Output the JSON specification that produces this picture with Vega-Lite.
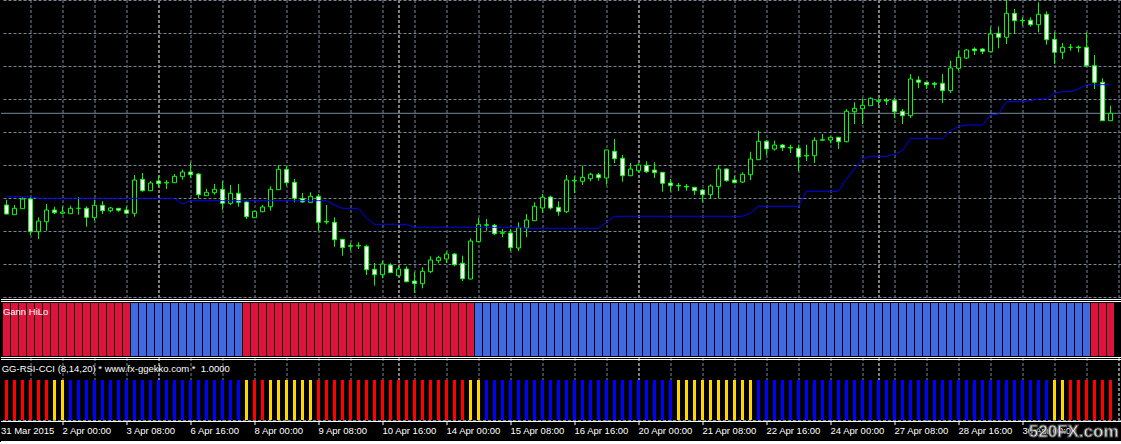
{
  "$schema": "https://vega.github.io/schema/vega-lite/v6.json",
  "background": "#000000",
  "padding": 0,
  "spacing": 0,
  "bounds": "flush",
  "resolve": {"scale": {"color": "independent"}},
  "config": {"view": {"stroke": null}, "concat": {"spacing": 0}, "scale": {"continuousPadding": 0}},
  "datasets": {
    "bars": [
      {"i":0,"o":1.0785,"h":1.079825,"l":1.076075,"c":1.07625,"hilo":1.080575,"gann":"down","rc":"down"},
      {"i":1,"o":1.076075,"h":1.0785,"l":1.076075,"c":1.077675,"hilo":1.080575,"gann":"down","rc":"down"},
      {"i":2,"o":1.077575,"h":1.080425,"l":1.077575,"c":1.08,"hilo":1.080575,"gann":"down","rc":"down"},
      {"i":3,"o":1.08,"h":1.080425,"l":1.071,"c":1.071825,"hilo":1.080575,"gann":"down","rc":"down"},
      {"i":4,"o":1.071825,"h":1.075425,"l":1.07,"c":1.0745,"hilo":1.080175,"gann":"down","rc":"down"},
      {"i":5,"o":1.074325,"h":1.07875,"l":1.072075,"c":1.07725,"hilo":1.080175,"gann":"down","rc":"down"},
      {"i":6,"o":1.07725,"h":1.078075,"l":1.07625,"c":1.076575,"hilo":1.080175,"gann":"down","rc":"flat"},
      {"i":7,"o":1.076425,"h":1.078175,"l":1.076175,"c":1.07675,"hilo":1.080175,"gann":"down","rc":"flat"},
      {"i":8,"o":1.076325,"h":1.078325,"l":1.07625,"c":1.077675,"hilo":1.080175,"gann":"down","rc":"up"},
      {"i":9,"o":1.077675,"h":1.080425,"l":1.076075,"c":1.077675,"hilo":1.080175,"gann":"down","rc":"up"},
      {"i":10,"o":1.077675,"h":1.078175,"l":1.073075,"c":1.075425,"hilo":1.080175,"gann":"down","rc":"up"},
      {"i":11,"o":1.075325,"h":1.079825,"l":1.074575,"c":1.078425,"hilo":1.080175,"gann":"down","rc":"up"},
      {"i":12,"o":1.078425,"h":1.079425,"l":1.07625,"c":1.077075,"hilo":1.080175,"gann":"down","rc":"up"},
      {"i":13,"o":1.077075,"h":1.078,"l":1.076675,"c":1.07775,"hilo":1.080175,"gann":"down","rc":"up"},
      {"i":14,"o":1.077675,"h":1.07775,"l":1.076825,"c":1.077175,"hilo":1.080175,"gann":"down","rc":"up"},
      {"i":15,"o":1.07725,"h":1.078175,"l":1.076175,"c":1.076425,"hilo":1.080175,"gann":"down","rc":"up"},
      {"i":16,"o":1.076425,"h":1.086,"l":1.075575,"c":1.08475,"hilo":1.080175,"gann":"up","rc":"up"},
      {"i":17,"o":1.084925,"h":1.0865,"l":1.081825,"c":1.082075,"hilo":1.080175,"gann":"up","rc":"up"},
      {"i":18,"o":1.082075,"h":1.0845,"l":1.082,"c":1.084,"hilo":1.080175,"gann":"up","rc":"up"},
      {"i":19,"o":1.0845,"h":1.085825,"l":1.082925,"c":1.083825,"hilo":1.080175,"gann":"up","rc":"up"},
      {"i":20,"o":1.084,"h":1.08475,"l":1.0825,"c":1.084175,"hilo":1.080175,"gann":"up","rc":"up"},
      {"i":21,"o":1.084075,"h":1.08625,"l":1.084,"c":1.085675,"hilo":1.080175,"gann":"up","rc":"up"},
      {"i":22,"o":1.085575,"h":1.087325,"l":1.084825,"c":1.08675,"hilo":1.07875,"gann":"up","rc":"up"},
      {"i":23,"o":1.08675,"h":1.089175,"l":1.085175,"c":1.086075,"hilo":1.079575,"gann":"up","rc":"up"},
      {"i":24,"o":1.08625,"h":1.0865,"l":1.08025,"c":1.081075,"hilo":1.079575,"gann":"up","rc":"up"},
      {"i":25,"o":1.080825,"h":1.0825,"l":1.08075,"c":1.081675,"hilo":1.079575,"gann":"up","rc":"up"},
      {"i":26,"o":1.081575,"h":1.08375,"l":1.081075,"c":1.082425,"hilo":1.079575,"gann":"up","rc":"up"},
      {"i":27,"o":1.082425,"h":1.0845,"l":1.077325,"c":1.078925,"hilo":1.079575,"gann":"up","rc":"up"},
      {"i":28,"o":1.078925,"h":1.0835,"l":1.0785,"c":1.081425,"hilo":1.079575,"gann":"up","rc":"up"},
      {"i":29,"o":1.081425,"h":1.08375,"l":1.078075,"c":1.079175,"hilo":1.079575,"gann":"up","rc":"up"},
      {"i":30,"o":1.07925,"h":1.079425,"l":1.075,"c":1.075575,"hilo":1.079575,"gann":"down","rc":"flat"},
      {"i":31,"o":1.075325,"h":1.077075,"l":1.07525,"c":1.076925,"hilo":1.079575,"gann":"down","rc":"down"},
      {"i":32,"o":1.076825,"h":1.0785,"l":1.076675,"c":1.078,"hilo":1.079575,"gann":"down","rc":"down"},
      {"i":33,"o":1.078075,"h":1.083175,"l":1.077075,"c":1.082425,"hilo":1.079575,"gann":"down","rc":"flat"},
      {"i":34,"o":1.082325,"h":1.0885,"l":1.08225,"c":1.087425,"hilo":1.079575,"gann":"down","rc":"flat"},
      {"i":35,"o":1.087425,"h":1.088175,"l":1.083325,"c":1.084075,"hilo":1.079575,"gann":"down","rc":"flat"},
      {"i":36,"o":1.084175,"h":1.085,"l":1.079175,"c":1.080175,"hilo":1.079575,"gann":"down","rc":"flat"},
      {"i":37,"o":1.080075,"h":1.0815,"l":1.079075,"c":1.07925,"hilo":1.079575,"gann":"down","rc":"flat"},
      {"i":38,"o":1.079175,"h":1.081675,"l":1.079075,"c":1.080675,"hilo":1.079575,"gann":"down","rc":"flat"},
      {"i":39,"o":1.080675,"h":1.08125,"l":1.072075,"c":1.074175,"hilo":1.079575,"gann":"down","rc":"down"},
      {"i":40,"o":1.074425,"h":1.0785,"l":1.073675,"c":1.07425,"hilo":1.079575,"gann":"down","rc":"down"},
      {"i":41,"o":1.074175,"h":1.075425,"l":1.068075,"c":1.069825,"hilo":1.0785,"gann":"down","rc":"down"},
      {"i":42,"o":1.069925,"h":1.07,"l":1.065825,"c":1.067825,"hilo":1.077675,"gann":"down","rc":"down"},
      {"i":43,"o":1.068325,"h":1.069,"l":1.067075,"c":1.068175,"hilo":1.077675,"gann":"down","rc":"down"},
      {"i":44,"o":1.06825,"h":1.069175,"l":1.0675,"c":1.068425,"hilo":1.077675,"gann":"down","rc":"down"},
      {"i":45,"o":1.068175,"h":1.068575,"l":1.061,"c":1.062325,"hilo":1.07525,"gann":"down","rc":"down"},
      {"i":46,"o":1.062425,"h":1.064,"l":1.058325,"c":1.061075,"hilo":1.073675,"gann":"down","rc":"down"},
      {"i":47,"o":1.061075,"h":1.064575,"l":1.060175,"c":1.06375,"hilo":1.073675,"gann":"down","rc":"down"},
      {"i":48,"o":1.0635,"h":1.063925,"l":1.0615,"c":1.061575,"hilo":1.073675,"gann":"down","rc":"down"},
      {"i":49,"o":1.060825,"h":1.063325,"l":1.06075,"c":1.0625,"hilo":1.073675,"gann":"down","rc":"down"},
      {"i":50,"o":1.0625,"h":1.063175,"l":1.059175,"c":1.059325,"hilo":1.073675,"gann":"down","rc":"down"},
      {"i":51,"o":1.0595,"h":1.061675,"l":1.0565,"c":1.058825,"hilo":1.072925,"gann":"down","rc":"down"},
      {"i":52,"o":1.058825,"h":1.062925,"l":1.057675,"c":1.061925,"hilo":1.072925,"gann":"down","rc":"down"},
      {"i":53,"o":1.061825,"h":1.065675,"l":1.0615,"c":1.06475,"hilo":1.072925,"gann":"down","rc":"down"},
      {"i":54,"o":1.064575,"h":1.065825,"l":1.063925,"c":1.065325,"hilo":1.072925,"gann":"down","rc":"down"},
      {"i":55,"o":1.065,"h":1.066825,"l":1.064,"c":1.06625,"hilo":1.072925,"gann":"down","rc":"down"},
      {"i":56,"o":1.06625,"h":1.0665,"l":1.063175,"c":1.063575,"hilo":1.072925,"gann":"down","rc":"down"},
      {"i":57,"o":1.063925,"h":1.065825,"l":1.0595,"c":1.060075,"hilo":1.072925,"gann":"down","rc":"down"},
      {"i":58,"o":1.06,"h":1.070175,"l":1.059925,"c":1.0695,"hilo":1.072925,"gann":"down","rc":"flat"},
      {"i":59,"o":1.069325,"h":1.07525,"l":1.06925,"c":1.073675,"hilo":1.072925,"gann":"up","rc":"flat"},
      {"i":60,"o":1.073425,"h":1.075,"l":1.072075,"c":1.073575,"hilo":1.072925,"gann":"up","rc":"up"},
      {"i":61,"o":1.073425,"h":1.07375,"l":1.071,"c":1.071325,"hilo":1.072925,"gann":"up","rc":"up"},
      {"i":62,"o":1.071425,"h":1.0725,"l":1.070425,"c":1.071575,"hilo":1.072925,"gann":"up","rc":"up"},
      {"i":63,"o":1.0715,"h":1.0725,"l":1.067,"c":1.067825,"hilo":1.072925,"gann":"up","rc":"up"},
      {"i":64,"o":1.06775,"h":1.074175,"l":1.067,"c":1.072825,"hilo":1.072925,"gann":"up","rc":"up"},
      {"i":65,"o":1.07275,"h":1.07625,"l":1.070425,"c":1.07475,"hilo":1.072675,"gann":"up","rc":"up"},
      {"i":66,"o":1.074575,"h":1.079175,"l":1.0745,"c":1.078175,"hilo":1.072675,"gann":"up","rc":"up"},
      {"i":67,"o":1.07775,"h":1.08125,"l":1.0765,"c":1.080425,"hilo":1.072675,"gann":"up","rc":"up"},
      {"i":68,"o":1.0805,"h":1.080825,"l":1.077325,"c":1.07775,"hilo":1.072675,"gann":"up","rc":"up"},
      {"i":69,"o":1.077925,"h":1.079425,"l":1.075825,"c":1.076825,"hilo":1.072675,"gann":"up","rc":"up"},
      {"i":70,"o":1.076825,"h":1.086,"l":1.0765,"c":1.08475,"hilo":1.072675,"gann":"up","rc":"up"},
      {"i":71,"o":1.0845,"h":1.085675,"l":1.0815,"c":1.084675,"hilo":1.072675,"gann":"up","rc":"up"},
      {"i":72,"o":1.084425,"h":1.088325,"l":1.0835,"c":1.085425,"hilo":1.072675,"gann":"up","rc":"up"},
      {"i":73,"o":1.085075,"h":1.086575,"l":1.084425,"c":1.086175,"hilo":1.072675,"gann":"up","rc":"up"},
      {"i":74,"o":1.086075,"h":1.0865,"l":1.084575,"c":1.085325,"hilo":1.072675,"gann":"up","rc":"up"},
      {"i":75,"o":1.08525,"h":1.092325,"l":1.083575,"c":1.09225,"hilo":1.074175,"gann":"up","rc":"up"},
      {"i":76,"o":1.091925,"h":1.095,"l":1.089,"c":1.090075,"hilo":1.075675,"gann":"up","rc":"up"},
      {"i":77,"o":1.090175,"h":1.091,"l":1.084325,"c":1.085825,"hilo":1.075675,"gann":"up","rc":"up"},
      {"i":78,"o":1.085825,"h":1.089,"l":1.085675,"c":1.0875,"hilo":1.075675,"gann":"up","rc":"up"},
      {"i":79,"o":1.087075,"h":1.088925,"l":1.086675,"c":1.0885,"hilo":1.075675,"gann":"up","rc":"up"},
      {"i":80,"o":1.088425,"h":1.089425,"l":1.0865,"c":1.086825,"hilo":1.075675,"gann":"up","rc":"up"},
      {"i":81,"o":1.08725,"h":1.089175,"l":1.08525,"c":1.086575,"hilo":1.075675,"gann":"up","rc":"up"},
      {"i":82,"o":1.086675,"h":1.08675,"l":1.081825,"c":1.083925,"hilo":1.075675,"gann":"up","rc":"up"},
      {"i":83,"o":1.084,"h":1.085,"l":1.081825,"c":1.083325,"hilo":1.075675,"gann":"up","rc":"up"},
      {"i":84,"o":1.083425,"h":1.084,"l":1.082,"c":1.08325,"hilo":1.075675,"gann":"up","rc":"flat"},
      {"i":85,"o":1.083175,"h":1.08375,"l":1.082075,"c":1.083,"hilo":1.075675,"gann":"up","rc":"flat"},
      {"i":86,"o":1.082925,"h":1.083,"l":1.081,"c":1.082075,"hilo":1.075675,"gann":"up","rc":"flat"},
      {"i":87,"o":1.08225,"h":1.0825,"l":1.079175,"c":1.081075,"hilo":1.075675,"gann":"up","rc":"flat"},
      {"i":88,"o":1.081075,"h":1.083675,"l":1.08,"c":1.08325,"hilo":1.075675,"gann":"up","rc":"flat"},
      {"i":89,"o":1.083075,"h":1.0885,"l":1.080175,"c":1.0875,"hilo":1.075675,"gann":"up","rc":"flat"},
      {"i":90,"o":1.0875,"h":1.087675,"l":1.084325,"c":1.084575,"hilo":1.075675,"gann":"up","rc":"flat"},
      {"i":91,"o":1.08475,"h":1.085825,"l":1.083925,"c":1.084075,"hilo":1.075675,"gann":"up","rc":"flat"},
      {"i":92,"o":1.08425,"h":1.086675,"l":1.084,"c":1.086175,"hilo":1.075675,"gann":"up","rc":"flat"},
      {"i":93,"o":1.086075,"h":1.091825,"l":1.08475,"c":1.09,"hilo":1.0765,"gann":"up","rc":"flat"},
      {"i":94,"o":1.089825,"h":1.097075,"l":1.08975,"c":1.094425,"hilo":1.078175,"gann":"up","rc":"up"},
      {"i":95,"o":1.094425,"h":1.09475,"l":1.091,"c":1.0925,"hilo":1.078175,"gann":"up","rc":"up"},
      {"i":96,"o":1.0925,"h":1.094575,"l":1.092075,"c":1.0935,"hilo":1.078175,"gann":"up","rc":"up"},
      {"i":97,"o":1.0935,"h":1.09375,"l":1.092,"c":1.092825,"hilo":1.078175,"gann":"up","rc":"up"},
      {"i":98,"o":1.092925,"h":1.093575,"l":1.0915,"c":1.09275,"hilo":1.078175,"gann":"up","rc":"up"},
      {"i":99,"o":1.092675,"h":1.093575,"l":1.086925,"c":1.0905,"hilo":1.078175,"gann":"up","rc":"up"},
      {"i":100,"o":1.09075,"h":1.093575,"l":1.0895,"c":1.090925,"hilo":1.081925,"gann":"up","rc":"up"},
      {"i":101,"o":1.090825,"h":1.095425,"l":1.089,"c":1.094675,"hilo":1.081925,"gann":"up","rc":"up"},
      {"i":102,"o":1.094675,"h":1.09625,"l":1.0945,"c":1.094825,"hilo":1.081925,"gann":"up","rc":"up"},
      {"i":103,"o":1.09475,"h":1.095675,"l":1.093925,"c":1.095425,"hilo":1.081925,"gann":"up","rc":"up"},
      {"i":104,"o":1.095425,"h":1.0955,"l":1.0925,"c":1.094325,"hilo":1.081925,"gann":"up","rc":"up"},
      {"i":105,"o":1.094325,"h":1.1025,"l":1.094175,"c":1.101925,"hilo":1.085,"gann":"up","rc":"up"},
      {"i":106,"o":1.101825,"h":1.104175,"l":1.09875,"c":1.102675,"hilo":1.0875,"gann":"up","rc":"up"},
      {"i":107,"o":1.102575,"h":1.105175,"l":1.09875,"c":1.103425,"hilo":1.09,"gann":"up","rc":"up"},
      {"i":108,"o":1.103325,"h":1.105425,"l":1.103325,"c":1.105175,"hilo":1.090675,"gann":"up","rc":"up"},
      {"i":109,"o":1.104425,"h":1.105175,"l":1.1035,"c":1.104675,"hilo":1.090675,"gann":"up","rc":"up"},
      {"i":110,"o":1.10475,"h":1.10525,"l":1.1035,"c":1.1045,"hilo":1.090675,"gann":"up","rc":"up"},
      {"i":111,"o":1.104675,"h":1.10525,"l":1.100175,"c":1.101825,"hilo":1.091175,"gann":"up","rc":"up"},
      {"i":112,"o":1.101925,"h":1.1025,"l":1.09875,"c":1.100825,"hilo":1.092075,"gann":"up","rc":"up"},
      {"i":113,"o":1.100825,"h":1.11125,"l":1.10025,"c":1.11,"hilo":1.095175,"gann":"up","rc":"up"},
      {"i":114,"o":1.10975,"h":1.110675,"l":1.107675,"c":1.109175,"hilo":1.095175,"gann":"up","rc":"up"},
      {"i":115,"o":1.109175,"h":1.109325,"l":1.1075,"c":1.108575,"hilo":1.095175,"gann":"up","rc":"up"},
      {"i":116,"o":1.108925,"h":1.109325,"l":1.107675,"c":1.108675,"hilo":1.095175,"gann":"up","rc":"up"},
      {"i":117,"o":1.108925,"h":1.11125,"l":1.104,"c":1.107075,"hilo":1.095175,"gann":"up","rc":"up"},
      {"i":118,"o":1.107075,"h":1.114575,"l":1.1065,"c":1.11275,"hilo":1.097075,"gann":"up","rc":"up"},
      {"i":119,"o":1.112675,"h":1.117075,"l":1.112075,"c":1.115425,"hilo":1.098075,"gann":"up","rc":"up"},
      {"i":120,"o":1.11525,"h":1.1175,"l":1.115,"c":1.11725,"hilo":1.0985,"gann":"up","rc":"up"},
      {"i":121,"o":1.1175,"h":1.117925,"l":1.116,"c":1.117075,"hilo":1.0985,"gann":"up","rc":"up"},
      {"i":122,"o":1.1175,"h":1.117675,"l":1.11625,"c":1.116925,"hilo":1.0985,"gann":"up","rc":"up"},
      {"i":123,"o":1.116825,"h":1.122925,"l":1.116675,"c":1.12125,"hilo":1.101,"gann":"up","rc":"up"},
      {"i":124,"o":1.121425,"h":1.123175,"l":1.117675,"c":1.120425,"hilo":1.10125,"gann":"up","rc":"up"},
      {"i":125,"o":1.120425,"h":1.12975,"l":1.11875,"c":1.126425,"hilo":1.104325,"gann":"up","rc":"up"},
      {"i":126,"o":1.126425,"h":1.1275,"l":1.12125,"c":1.124575,"hilo":1.104325,"gann":"up","rc":"up"},
      {"i":127,"o":1.124675,"h":1.125425,"l":1.123325,"c":1.124575,"hilo":1.104325,"gann":"up","rc":"up"},
      {"i":128,"o":1.124675,"h":1.125425,"l":1.123075,"c":1.123575,"hilo":1.104575,"gann":"up","rc":"up"},
      {"i":129,"o":1.123575,"h":1.129175,"l":1.121675,"c":1.126175,"hilo":1.105,"gann":"up","rc":"up"},
      {"i":130,"o":1.126175,"h":1.126925,"l":1.118575,"c":1.119825,"hilo":1.105,"gann":"up","rc":"up"},
      {"i":131,"o":1.119925,"h":1.121675,"l":1.11375,"c":1.116675,"hilo":1.1065,"gann":"up","rc":"flat"},
      {"i":132,"o":1.116675,"h":1.119,"l":1.115,"c":1.117925,"hilo":1.106825,"gann":"up","rc":"flat"},
      {"i":133,"o":1.117925,"h":1.11875,"l":1.117075,"c":1.117925,"hilo":1.106825,"gann":"up","rc":"down"},
      {"i":134,"o":1.118,"h":1.118325,"l":1.116675,"c":1.117825,"hilo":1.1075,"gann":"up","rc":"down"},
      {"i":135,"o":1.117925,"h":1.121675,"l":1.113075,"c":1.113325,"hilo":1.108575,"gann":"up","rc":"down"},
      {"i":136,"o":1.113325,"h":1.116,"l":1.1075,"c":1.109175,"hilo":1.108575,"gann":"down","rc":"down"},
      {"i":137,"o":1.109175,"h":1.110175,"l":1.099575,"c":1.099575,"hilo":1.108575,"gann":"down","rc":"down"},
      {"i":138,"o":1.099575,"h":1.103325,"l":1.099575,"c":1.101425,"hilo":1.108575,"gann":"down","rc":"down"}
    ]
  },
  "vconcat": [
    {
      "width": 1120,
      "height": 300,
      "data": {"name": "bars"},
      "resolve": {"axis": {"x": "independent", "y": "independent"}},
      "layer": [
        {
          "transform": [{"filter": "datum.i == 138"}],
          "mark": {"type": "rule", "color": "#778899", "strokeWidth": 1, "clip": true},
          "encoding": {
            "y": {"field": "c", "type": "quantitative", "scale": {"domain": [1.05475, 1.12975], "nice": false, "zero": false, "padding": 0},
              "axis": {"values": [1.12975, 1.1215, 1.11325, 1.105, 1.09675, 1.0885, 1.08025, 1.072, 1.06375, 1.0555], "labels": false, "ticks": false, "tickSize": 0, "labelPadding": 0, "minExtent": 0, "offset": 0, "domain": false, "grid": true, "gridColor": "#778899", "gridDash": [3, 2], "gridWidth": 1, "title": null, "orient": "right"}}
          }
        },
        {
          "mark": {"type": "rule", "color": "#00ff00", "strokeWidth": 1, "clip": true},
          "encoding": {
            "x": {"field": "i", "type": "quantitative", "scale": {"domain": [-0.6875, 139.3125], "nice": false, "zero": false, "padding": 0},
              "axis": {"values": [3,7,11,15,19,23,27,31,35,39,43,47,49,51,55,59,63,67,71,75,79,83,87,91,95,99,103,107,109,111,115,119,123,127,131,135,139], "labels": false, "ticks": false, "tickSize": 0, "labelPadding": 0, "minExtent": 0, "domain": false, "grid": true, "translate": 0, "gridDash": [3, 2], "gridWidth": 1, "title": null, "orient": "bottom",
                "gridColor": {"condition": {"test": "datum.value == 19 || datum.value == 49 || datum.value == 79 || datum.value == 109", "value": "#ffffff"}, "value": "#778899"}}},
            "y": {"field": "l", "type": "quantitative", "scale": {"domain": [1.05475, 1.12975], "nice": false, "zero": false, "padding": 0}, "axis": null},
            "y2": {"field": "h"}
          }
        },
        {
          "mark": {"type": "bar", "width": 4, "stroke": "#00ff00", "strokeWidth": 1, "clip": true},
          "encoding": {
            "x": {"field": "i", "type": "quantitative", "scale": {"domain": [-0.6875, 139.3125], "nice": false, "zero": false, "padding": 0}, "axis": null},
            "y": {"field": "o", "type": "quantitative", "scale": {"domain": [1.05475, 1.12975], "nice": false, "zero": false, "padding": 0}, "axis": null},
            "y2": {"field": "c"},
            "fill": {"condition": {"test": "datum.c < datum.o", "value": "#ffffff"}, "value": "#000000"}
          }
        },
        {
          "mark": {"type": "line", "color": "#0000ff", "strokeWidth": 1, "clip": true},
          "encoding": {
            "x": {"field": "i", "type": "quantitative", "scale": {"domain": [-0.6875, 139.3125], "nice": false, "zero": false, "padding": 0}, "axis": null},
            "y": {"field": "hilo", "type": "quantitative", "scale": {"domain": [1.05475, 1.12975], "nice": false, "zero": false, "padding": 0}, "axis": null}
          }
        },
        {
          "data": {"values": [{}]},
          "mark": {"type": "rule", "color": "#ffffff", "strokeWidth": 1},
          "encoding": {
            "y": {"datum": 1.054875, "type": "quantitative", "scale": {"domain": [1.05475, 1.12975], "nice": false, "zero": false, "padding": 0}, "axis": null}
          }
        }
      ]
    },
    {
      "width": 1120,
      "height": 58,
      "data": {"name": "bars"},
      "layer": [
        {
          "mark": {"type": "bar", "width": 7, "clip": true},
          "encoding": {
            "x": {"field": "i", "type": "quantitative", "scale": {"domain": [-0.6875, 139.3125], "nice": false, "zero": false, "padding": 0}, "axis": null},
            "y": {"datum": 2, "type": "quantitative", "scale": {"domain": [0, 58], "nice": false, "zero": false, "padding": 0}, "axis": null},
            "y2": {"datum": 55},
            "color": {"field": "gann", "type": "nominal", "scale": {"domain": ["down", "up"], "range": ["#dc143c", "#4169e1"]}, "legend": null}
          }
        },
        {
          "data": {"values": [{}]},
          "mark": {"type": "rule", "color": "#ffffff", "strokeWidth": 1},
          "encoding": {"y": {"datum": 56.5, "type": "quantitative", "scale": {"domain": [0, 58], "nice": false, "zero": false, "padding": 0}, "axis": null}}
        },
        {
          "data": {"values": [{}]},
          "mark": {"type": "rule", "color": "#ffffff", "strokeWidth": 1},
          "encoding": {"y": {"datum": 0.5, "type": "quantitative", "scale": {"domain": [0, 58], "nice": false, "zero": false, "padding": 0}, "axis": null}}
        },
        {
          "data": {"values": [{}]},
          "mark": {"type": "text", "text": "Gann HiLo", "align": "left", "baseline": "alphabetic", "color": "#ffffff", "font": "Liberation Sans", "fontSize": 9.5},
          "encoding": {
            "x": {"datum": -0.45, "type": "quantitative", "scale": {"domain": [-0.6875, 139.3125], "nice": false, "zero": false, "padding": 0}, "axis": null},
            "y": {"datum": 43.3, "type": "quantitative", "scale": {"domain": [0, 58], "nice": false, "zero": false, "padding": 0}, "axis": null}
          }
        }
      ]
    },
    {
      "width": 1120,
      "height": 63,
      "data": {"name": "bars"},
      "resolve": {"axis": {"x": "independent", "y": "independent"}},
      "layer": [
        {
          "mark": {"type": "bar", "width": 3, "clip": true},
          "encoding": {
            "x": {"field": "i", "type": "quantitative", "scale": {"domain": [-0.6875, 139.3125], "nice": false, "zero": false, "padding": 0},
              "axis": {"values": [-0.6875,3,7,11,15,19,23,27,31,35,39,43,47,49,51,55,59,63,67,71,75,79,83,87,91,95,99,103,107,109,111,115,119,123,127,131,135,139],
                "title": null, "domain": false, "translate": 0, "orient": "bottom", "minExtent": 0,
                "grid": true, "gridDash": [3, 2], "gridWidth": 1,
                "gridColor": {"condition": {"test": "datum.value == 19 || datum.value == 49 || datum.value == 79 || datum.value == 109 || datum.value == 139", "value": "#ffffff"}, "value": "#778899"},
                "gridOpacity": {"condition": {"test": "datum.value < 0", "value": 0}, "value": 1},
                "ticks": true, "tickSize": 4, "tickWidth": 1,
                "tickColor": {"condition": {"test": "datum.value >= 0 && (datum.value + 1) % 8 == 0 && datum.value < 130", "value": "#ffffff"}, "value": "transparent"},
                "labelExpr": "datum.value < 0 ? '31 Mar 2015' : ((datum.value + 1) % 8 == 0 ? ['', '2 Apr 00:00', '3 Apr 08:00', '6 Apr 16:00', '8 Apr 00:00', '9 Apr 08:00', '10 Apr 16:00', '14 Apr 00:00', '15 Apr 08:00', '16 Apr 16:00', '20 Apr 00:00', '21 Apr 08:00', '22 Apr 16:00', '24 Apr 00:00', '27 Apr 08:00', '28 Apr 16:00', '30 Apr 00:00', ''][(datum.value + 1) / 8] : '')",
                "labelColor": "#ffffff", "labelFont": "Liberation Sans", "labelFontSize": 9.5,
                "labelAlign": "left", "labelBaseline": "alphabetic", "labelPadding": 9,
                "labelOverlap": false, "labelFlush": false, "labelBound": false}},
            "y": {"datum": 1, "type": "quantitative", "scale": {"domain": [0, 63], "nice": false, "zero": false, "padding": 0}, "axis": null},
            "y2": {"datum": 41},
            "color": {"field": "rc", "type": "nominal", "scale": {"domain": ["down", "flat", "up"], "range": ["#ff0000", "#ffd700", "#0000ff"]}, "legend": null}
          }
        },
        {
          "data": {"values": [{}]},
          "mark": {"type": "rule", "color": "#778899", "strokeWidth": 1, "strokeDash": [3, 2]},
          "encoding": {"y": {"datum": 0.5, "type": "quantitative", "scale": {"domain": [0, 63], "nice": false, "zero": false, "padding": 0}, "axis": null}}
        },
        {
          "data": {"values": [{}]},
          "mark": {"type": "rule", "color": "#ffffff", "strokeWidth": 1},
          "encoding": {"y": {"datum": 61.5, "type": "quantitative", "scale": {"domain": [0, 63], "nice": false, "zero": false, "padding": 0}, "axis": null}}
        },
        {
          "data": {"values": [{}]},
          "mark": {"type": "rule", "color": "#ffffff", "strokeWidth": 1},
          "encoding": {"y": {"datum": -0.5, "type": "quantitative", "scale": {"domain": [0, 63], "nice": false, "zero": false, "padding": 0}, "axis": null}}
        },
        {
          "data": {"values": [{}]},
          "mark": {"type": "rule", "color": "#ffffff", "strokeWidth": 1},
          "encoding": {"y": {"datum": -20.5, "type": "quantitative", "scale": {"domain": [0, 63], "nice": false, "zero": false, "padding": 0}, "axis": null}}
        },
        {
          "data": {"values": [{}]},
          "mark": {"type": "text", "text": "GG-RSI-CCI (8,14,20) * www.fx-ggekko.com * \u00a01.0000", "align": "left", "baseline": "alphabetic", "color": "#ffffff", "font": "Liberation Sans", "fontSize": 9.5},
          "encoding": {
            "x": {"datum": -0.6, "type": "quantitative", "scale": {"domain": [-0.6875, 139.3125], "nice": false, "zero": false, "padding": 0}, "axis": null},
            "y": {"datum": 49.3, "type": "quantitative", "scale": {"domain": [0, 63], "nice": false, "zero": false, "padding": 0}, "axis": null}
          }
        },
        {
          "data": {"values": [{}]},
          "mark": {"type": "text", "text": "520FX.com", "align": "right", "baseline": "alphabetic", "fill": "#f4f4f4", "stroke": "#555555", "strokeWidth": 1, "font": "Liberation Sans", "fontWeight": "bold", "fontSize": 17},
          "encoding": {
            "x": {"datum": 139, "type": "quantitative", "scale": {"domain": [-0.6875, 139.3125], "nice": false, "zero": false, "padding": 0}, "axis": null},
            "y": {"datum": -16, "type": "quantitative", "scale": {"domain": [0, 63], "nice": false, "zero": false, "padding": 0}, "axis": null}
          }
        }
      ]
    }
  ]
}
